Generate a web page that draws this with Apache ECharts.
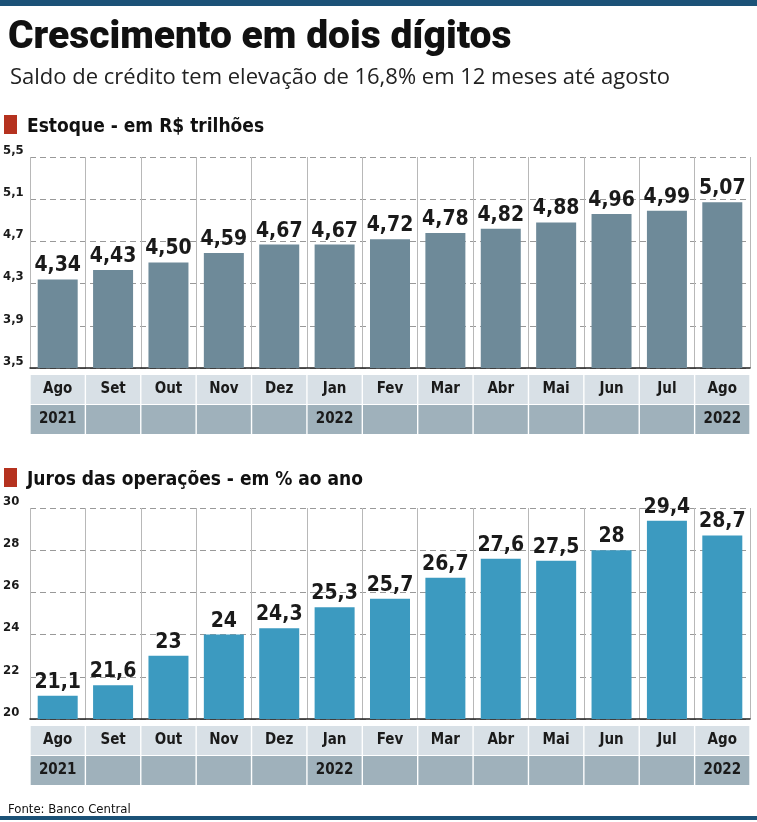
<!DOCTYPE html>
<html><head><meta charset="utf-8">
<script src="https://cdn.jsdelivr.net/npm/echarts@6/dist/echarts.min.js"></script>
<style>
body{margin:0;background:#fff;}
#c{width:757px;height:822px;}
</style></head>
<body><div id="c"></div>
<script>
const months = ['Ago','Set','Out','Nov','Dez','Jan','Fev','Mar','Abr','Mai','Jun','Jul','Ago'];
const years = ['2021','','','','','2022','','','','','','','2022'];
const estoque = [4.34,4.43,4.50,4.59,4.67,4.67,4.72,4.78,4.82,4.88,4.96,4.99,5.07];
const juros = [21.1,21.6,23,24,24.3,25.3,25.7,26.7,27.6,27.5,28,29.4,28.7];
const estoqueTicks = [3.5,3.9,4.3,4.7,5.1,5.5];

const chart = echarts.init(document.getElementById('c'));
const narrow = '"Liberation Sans Narrow","DejaVu Sans Condensed",sans-serif';
const fmt = v => String(v).replace('.', ',');

const makeX = (gi, data, margin, bg, showLine) => ({
  type: 'category', gridIndex: gi, data: data, position: 'bottom',
  axisTick: { show: false },
  axisLine: { show: showLine, lineStyle: { color: '#222', width: 1.5 } },
  splitLine: { show: showLine, interval: 0, lineStyle: { color: '#b8b8b8', width: 1 } },
  axisLabel: {
    interval: 0, margin: margin, color: '#1a1a1a', fontFamily: narrow, fontWeight: 'bold', fontSize: 15,
    width: 54, height: 29, lineHeight: 29, backgroundColor: bg, align: 'center'
  }
});
const makeY = (gi, min, max, interval, formatter) => ({
  type: 'value', gridIndex: gi, min: min, max: max, interval: interval,
  axisLine: { show: false }, axisTick: { show: false },
  splitLine: { lineStyle: { color: '#999', type: [6, 4], width: 1 } },
  axisLabel: { color: '#1a1a1a', fontFamily: narrow, fontWeight: 'bold', fontSize: 13, margin: 27, align: 'left', verticalAlign: 'bottom', formatter: formatter }
});
const barLabel = {
  show: true, position: 'top', distance: 3, color: '#1a1a1a',
  fontFamily: narrow, fontWeight: 'bold', fontSize: 21, formatter: p => fmt(p.value)
};

chart.setOption({
  animation: false,
  title: [
    { text: 'Crescimento em dois dígitos', left: 3, top: 14,
      textStyle: { fontFamily: 'Roboto', fontWeight: 900, fontSize: 39, color: '#111' } },
    { text: 'Saldo de crédito tem elevação de 16,8% em 12 meses até agosto', left: 5, top: 62,
      textStyle: { fontFamily: '"Open Sans"', fontWeight: 'normal', fontSize: 22, color: '#222' } },
    { text: 'Estoque - em R$ trilhões', left: 22, top: 113,
      textStyle: { fontFamily: narrow, fontWeight: 'bold', fontSize: 19, color: '#111' } },
    { text: 'Juros das operações - em % ao ano', left: 22, top: 466,
      textStyle: { fontFamily: narrow, fontWeight: 'bold', fontSize: 19, color: '#111' } },
    { text: 'Fonte: Banco Central', left: 3, top: 798,
      textStyle: { fontFamily: narrow, fontWeight: 'normal', fontSize: 13, color: '#111' } }
  ],
  graphic: [
    { type: 'rect', shape: { x: 0, y: 0, width: 757, height: 6 }, style: { fill: '#1c5277' } },
    { type: 'rect', shape: { x: 4, y: 115, width: 13, height: 19 }, style: { fill: '#b5321f' } },
    { type: 'rect', shape: { x: 4, y: 468, width: 13, height: 19 }, style: { fill: '#b5321f' } },
    { type: 'rect', shape: { x: 0, y: 816, width: 757, height: 4 }, style: { fill: '#1c5277' } }
  ],
  grid: [
    { left: 28, right: 7, top: 157, height: 211 },
    { left: 28, right: 7, top: 508, height: 211 }
  ],
  xAxis: [
    makeX(0, months, 7, '#d8e0e6', true),
    makeX(0, years, 37, '#9fb1bb', false),
    makeX(1, months, 7, '#d8e0e6', true),
    makeX(1, years, 37, '#9fb1bb', false)
  ],
  yAxis: [
    makeY(0, estoqueTicks[0], estoqueTicks[estoqueTicks.length - 1], 0.4, v => fmt(v.toFixed(1))),
    makeY(1, 20, 30, 2, v => v)
  ],
  series: [
    { type: 'bar', xAxisIndex: 0, yAxisIndex: 0, data: estoque, barWidth: 40,
      itemStyle: { color: '#6e8a99' }, label: Object.assign({}, barLabel, { formatter: p => p.value.toFixed(2).replace('.', ',') }) },
    { type: 'bar', xAxisIndex: 2, yAxisIndex: 1, data: juros, barWidth: 40,
      itemStyle: { color: '#3c9ac0' }, label: barLabel }
  ]
});
</script></body></html>
